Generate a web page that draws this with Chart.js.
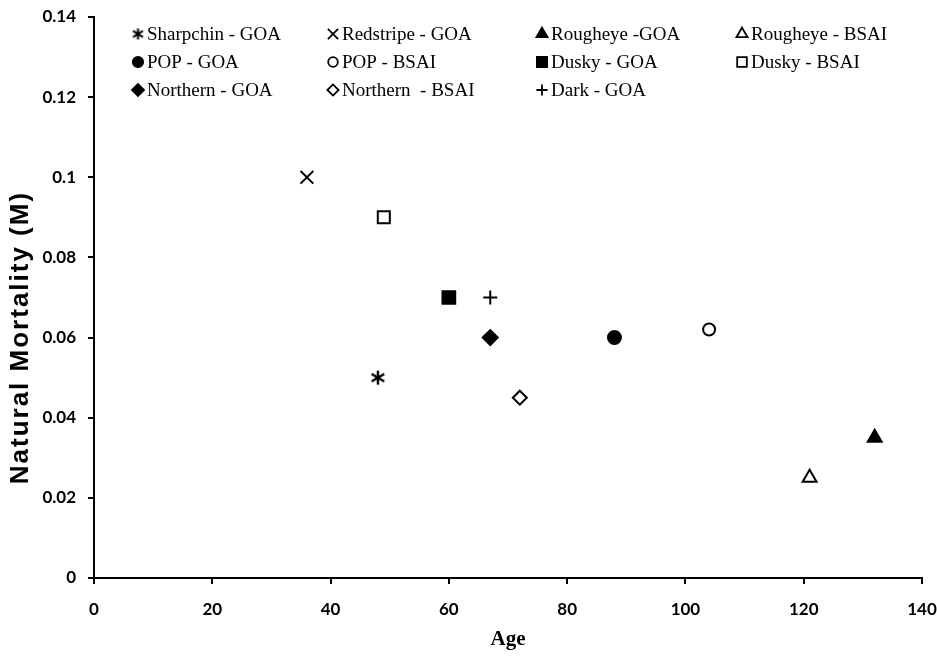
<!DOCTYPE html>
<html>
<head>
<meta charset="utf-8">
<script src="https://cdn.jsdelivr.net/npm/chart.js@4.4.0/dist/chart.umd.min.js"></script>
<style>
  html, body { margin: 0; padding: 0; background: #fff; }
  #wrap { width: 937px; height: 656px; }
</style>
</head>
<body>
<div id="wrap"><canvas id="myChart" width="937" height="656"></canvas></div>
<script>
// values
const species = ["Sharpchin - GOA", "Redstripe - GOA", "Rougheye -GOA", "Rougheye - BSAI",
  "POP - GOA", "POP - BSAI", "Dusky - GOA", "Dusky - BSAI",
  "Northern - GOA", "Northern  - BSAI", "Dark - GOA"];
const ages = [48, 36, 132, 121, 88, 104, 60, 49, 67, 72, 67];
const mortality = [0.05, 0.1, 0.035, 0.025, 0.06, 0.062, 0.07, 0.09, 0.06, 0.045, 0.07];
const xTicks = [0, 20, 40, 60, 80, 100, 120, 140];
const yTicks = [0, 0.02, 0.04, 0.06, 0.08, 0.1, 0.12, 0.14];
const yTitle = "Natural Mortality (M)";

// six-spoke asterisk for sharpchin
function asterisk(size, lw) {
  const c = document.createElement("canvas");
  c.width = size; c.height = size;
  const g = c.getContext("2d");
  g.strokeStyle = "#000";
  g.lineWidth = lw;
  const m = size / 2, r = size / 2 - 1;
  g.beginPath();
  g.moveTo(m, m - r); g.lineTo(m, m + r);
  g.moveTo(m - r * 0.9, m - r * 0.55); g.lineTo(m + r * 0.9, m + r * 0.55);
  g.moveTo(m - r * 0.9, m + r * 0.55); g.lineTo(m + r * 0.9, m - r * 0.55);
  g.stroke();
  return c;
}

// marker look per series (same order as species)
const markers = [
  { style: asterisk(16, 2.4), legendStyle: asterisk(13, 2), r: 8, fill: "#000" },
  { style: "crossRot", r: 9, fill: "#000" },
  { style: "triangle", r: 8, fill: "#000" },
  { style: "triangle", r: 8, fill: "#fff" },
  { style: "circle", r: 6.5, fill: "#000" },
  { style: "circle", r: 6, fill: "#fff" },
  { style: "rect", r: 9, fill: "#000" },
  { style: "rect", r: 8.5, fill: "#fff" },
  { style: "rectRot", r: 7.5, fill: "#000" },
  { style: "rectRot", r: 7, fill: "#fff" },
  { style: "cross", r: 7, fill: "#000" },
];

const datasets = species.map((name, i) => ({
  label: name,
  data: [{ x: ages[i], y: mortality[i] }],
  pointStyle: markers[i].style,
  pointRadius: markers[i].r,
  pointHoverRadius: markers[i].r,
  backgroundColor: markers[i].fill,
  borderColor: "#000",
  borderWidth: 2,
}));

// legend in 4 fixed columns + the stretched y title of the scan
const extras = {
  id: "extras",
  afterDraw(chart) {
    const ctx = chart.ctx;
    const colX = [138, 333, 542, 742];
    const rowY = [34, 62, 90];
    ctx.save();
    ctx.font = "19px 'Liberation Serif'";
    ctx.textBaseline = "middle";
    ctx.textAlign = "left";
    species.forEach((name, i) => {
      const x = colX[i % 4], y = rowY[Math.floor(i / 4)];
      const mk = markers[i];
      ctx.fillStyle = mk.fill;
      ctx.strokeStyle = "#000";
      ctx.lineWidth = 1.8;
      Chart.helpers.drawPoint(ctx, {
        pointStyle: mk.legendStyle || mk.style,
        radius: mk.r * 0.8,
        borderWidth: 1.8,
        rotation: 0,
      }, x, y);
      ctx.fillStyle = "#000";
      ctx.fillText(name, x + 9, y + 1);
    });
    ctx.restore();

    // y axis title
    const yScale = chart.scales.y;
    ctx.save();
    ctx.translate(21, yScale.getPixelForValue(0.06));
    ctx.rotate(-Math.PI / 2);
    ctx.font = "bold 26px 'Liberation Sans'";
    ctx.letterSpacing = "2px";
    ctx.fillStyle = "#000";
    ctx.textAlign = "center";
    ctx.textBaseline = "middle";
    ctx.fillText(yTitle, 0, 0);
    ctx.restore();
  },
};

const ctx = document.getElementById("myChart");

new Chart(ctx, {
  type: "scatter",
  data: { datasets: datasets },
  options: {
    responsive: false,
    animation: false,
    events: [],
    layout: { padding: { left: 0, right: 15, top: 17, bottom: 0 } },
    plugins: {
      legend: { display: false },
      tooltip: { enabled: false },
    },
    scales: {
      x: {
        type: "linear",
        min: 0,
        max: 140,
        afterBuildTicks: (scale) => { scale.ticks = xTicks.map((v) => ({ value: v })); },
        afterFit: (scale) => {
          scale.height = 78;
          scale.paddingLeft = 0;
          scale.paddingRight = 0;
        },
        grid: { drawOnChartArea: false, drawTicks: true, tickLength: 6, color: "#000", lineWidth: 2 },
        border: { display: true, color: "#000", width: 2 },
        ticks: {
          color: "#000",
          padding: 15,
          font: { family: "Lato", weight: "bold", size: 17 },
        },
        title: {
          display: true,
          text: "Age",
          color: "#000",
          padding: { top: 0, bottom: 4 },
          font: { family: "Liberation Serif", weight: "bold", size: 21 },
        },
      },
      y: {
        type: "linear",
        min: 0,
        max: 0.14,
        afterBuildTicks: (scale) => { scale.ticks = yTicks.map((v) => ({ value: v })); },
        afterFit: (scale) => {
          scale.width = 94;
          scale.paddingTop = 0;
          scale.paddingBottom = 0;
        },
        grid: { drawOnChartArea: false, drawTicks: true, tickLength: 6, color: "#000", lineWidth: 2 },
        border: { display: true, color: "#000", width: 2 },
        ticks: {
          color: "#000",
          padding: 12,
          font: { family: "Lato", weight: "bold", size: 17 },
          callback: (v) => String(+v.toFixed(2)),
        },
      },
    },
  },
  plugins: [extras],
});
</script>
</body>
</html>
